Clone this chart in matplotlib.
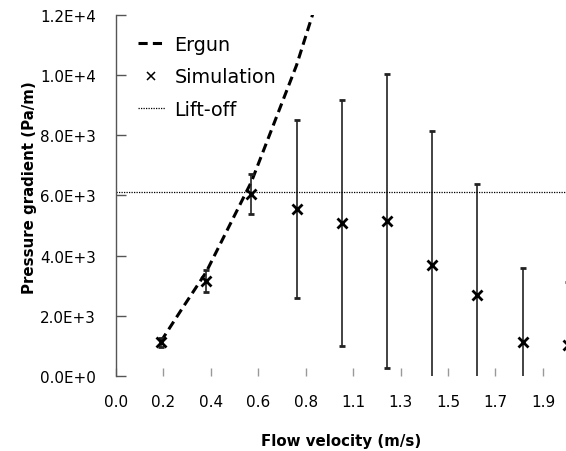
import numpy as np
import matplotlib
matplotlib.use("Agg")
import matplotlib.pyplot as plt
from matplotlib.lines import Line2D

plt.rcParams['font.family'] = ['DejaVu Sans']

# simulation points (velocity m/s, pressure gradient Pa/m, error)
sim_v = [0.2, 0.4, 0.6, 0.8, 1.0, 1.2, 1.4, 1.6, 1.8, 2.0]
sim_p = [1120, 3150, 6050, 5550, 5090, 5160, 3690, 2690, 1120, 1030]
sim_err = [150, 360, 660, 2950, 4100, 4880, 4440, 3680, 2460, 2100]

# Ergun curve
ergun_v = [0.2, 0.3, 0.4, 0.5, 0.6, 0.7, 0.8, 0.9]
ergun_p = [1150, 2310, 3450, 4950, 6450, 8390, 10330, 12700]

liftoff_p = 6100

xtick_pos = [0.0, 0.21, 0.42, 0.63, 0.84, 1.05, 1.26, 1.47, 1.68, 1.89]
xtick_labels = ["0.0", "0.2", "0.4", "0.6", "0.8", "1.1", "1.3", "1.5", "1.7", "1.9"]
ytick_pos = [0, 2000, 4000, 6000, 8000, 10000, 12000]
ytick_labels = ["0.0E+0", "2.0E+3", "4.0E+3", "6.0E+3", "8.0E+3", "1.0E+4", "1.2E+4"]

fig = plt.figure(figsize=(5.66, 4.52), dpi=100)
ax = fig.add_axes([0.2044, 0.166, 0.7956, 0.7986])

ax.plot(ergun_v, ergun_p, color='k', lw=2.2, ls=(0, (3.0, 1.7)))
ax.errorbar(sim_v, sim_p, yerr=sim_err, fmt='x', color='k', ms=7, mew=2,
            ecolor='#222222', elinewidth=1.2, capsize=2.4, capthick=1.2)
ax.axhline(liftoff_p, color='k', lw=0.9, ls=(0, (1, 1)))

ax.set_xlim(0, 1.992)
ax.set_ylim(0, 12000)
ax.set_xticks(xtick_pos)
ax.set_xticklabels(xtick_labels)
ax.set_yticks(ytick_pos)
ax.set_yticklabels(ytick_labels)

for s in ['top', 'right', 'bottom']:
    ax.spines[s].set_visible(False)
ax.spines['left'].set_color('#555555')
ax.spines['left'].set_linewidth(1.0)

ax.tick_params(axis='x', direction='in', length=6, width=1, color='#999999',
               pad=13, labelsize=11)
ax.tick_params(axis='y', direction='in', length=7, width=1, color='#555555',
               pad=14, labelsize=10.9)

ax.set_xlabel('Flow velocity (m/s)', fontsize=10.8, fontweight='bold', labelpad=17)
ax.set_ylabel('Pressure gradient (Pa/m)', fontsize=10.8, fontweight='bold')
ax.yaxis.set_label_coords(-0.175, 0.5235)

handles = [
    Line2D([], [], color='k', lw=2.2, ls=(0, (3.0, 1.7))),
    Line2D([], [], color='k', marker='x', ls='none', ms=5.5, mew=1.1),
    Line2D([], [], color='k', lw=0.9, ls=(0, (1, 1))),
]
ax.legend(handles, ['Ergun', 'Simulation', 'Lift-off'], loc='upper left',
          bbox_to_anchor=(0.032, 0.967), frameon=False, fontsize=13.8,
          handlelength=1.42, handletextpad=0.5, labelspacing=0.72,
          borderpad=0.4, borderaxespad=0)

fig.savefig('out.png', dpi=100)
